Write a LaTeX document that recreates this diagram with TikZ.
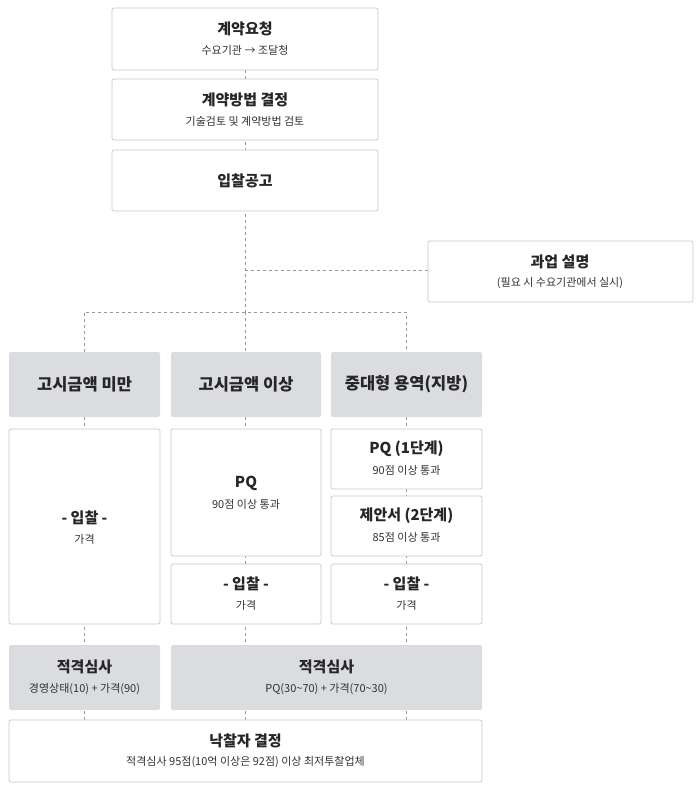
\documentclass[tikz,border=0pt]{standalone}
\usepackage{fontspec}
\setmainfont{Noto Sans CJK KR}
\begin{document}
\begin{tikzpicture}[x=1pt,y=-1pt,
  box/.style={draw=black!22,fill=white,rounded corners=2pt,line width=0.7pt},
  gbox/.style={fill={rgb,255:red,218;green,220;blue,223},rounded corners=2pt},
  dl/.style={draw=black!40,dashed,line width=0.6pt},
  tt/.style={font=\bfseries\fontsize{15}{17}\selectfont,text=black!85},
  st/.style={font=\fontsize{11}{13}\selectfont,text=black!80}]
\useasboundingbox (0,0) rectangle (700,792);
% dashed connectors
\draw[dl] (245,70) -- (245,312);
\draw[dl] (245,270) -- (428,270);
\draw[dl] (84,352) -- (84,312) -- (406,312) -- (406,352);
\draw[dl] (245,312) -- (245,352);
\foreach \x in {84,245,406}{\draw[dl] (\x,417) -- (\x,720);}
% boxes
\draw[box] (112,8) rectangle (378,70);
\node[tt] (a1) at (245,29) {계약요청};
\node[st] (a2) at (245,50) {수요기관 → 조달청};
\draw[box] (112,79) rectangle (378,140);
\node[tt] (b1) at (245,100) {계약방법 결정};
\node[st] (b2) at (245,121) {기술검토 및 계약방법 검토};
\draw[box] (112,150) rectangle (378,211);
\node[tt] (c1) at (245,181) {입찰공고};
\draw[box] (428,241) rectangle (693,302);
\node[tt] (d1) at (560,262) {과업 설명};
\node[st] (d2) at (560,283) {(필요 시 수요기관에서 실시)};
% headers
\fill[gbox] (9,352) rectangle (160,417);
\node[tt,font=\bfseries\fontsize{16.5}{18}\selectfont] (h1) at (84.5,384) {고시금액 미만};
\fill[gbox] (171,352) rectangle (321,417);
\node[tt,font=\bfseries\fontsize{16.5}{18}\selectfont] (h2) at (246,384) {고시금액 이상};
\fill[gbox] (331,352) rectangle (482,417);
\node[tt,font=\bfseries\fontsize{16.5}{18}\selectfont] (h3) at (406.5,384) {중대형 용역(지방)};
% col1
\draw[box] (9,429) rectangle (160,624);
\node[tt] (e1) at (84.5,518) {- 입찰 -};
\node[st] (e2) at (84.5,539) {가격};
% col2
\draw[box] (171,429) rectangle (321,556);
\node[tt] (f1) at (246,483) {PQ};
\node[st] (f2) at (246,504) {90점 이상 통과};
\draw[box] (171,564) rectangle (321,624);
\node[tt] (g1) at (246,584) {- 입찰 -};
\node[st] (g2) at (246,605) {가격};
% col3
\draw[box] (331,429) rectangle (482,489);
\node[tt] (i1) at (406.5,449) {PQ (1단계)};
\node[st] (i2) at (406.5,470) {90점 이상 통과};
\draw[box] (331,496) rectangle (482,556);
\node[tt] (j1) at (406.5,516) {제안서 (2단계)};
\node[st] (j2) at (406.5,537) {85점 이상 통과};
\draw[box] (331,564) rectangle (482,624);
\node[tt] (k1) at (406.5,584) {- 입찰 -};
\node[st] (k2) at (406.5,605) {가격};
% evaluation
\fill[gbox] (9,645) rectangle (160,710);
\node[tt] (l1) at (84.5,667) {적격심사};
\node[st] (l2) at (84.5,689) {경영상태(10) + 가격(90)};
\fill[gbox] (171,645) rectangle (482,710);
\node[tt] (m1) at (326.5,667) {적격심사};
\node[st] (m2) at (326.5,689) {PQ(30\textasciitilde70) + 가격(70\textasciitilde30)};
% final
\draw[box] (9,720) rectangle (482,782);
\node[tt] (n1) at (245.5,741) {낙찰자 결정};
\node[st] (n2) at (245.5,762) {적격심사 95점(10억 이상은 92점) 이상 최저투찰업체};
\end{tikzpicture}
\end{document}
